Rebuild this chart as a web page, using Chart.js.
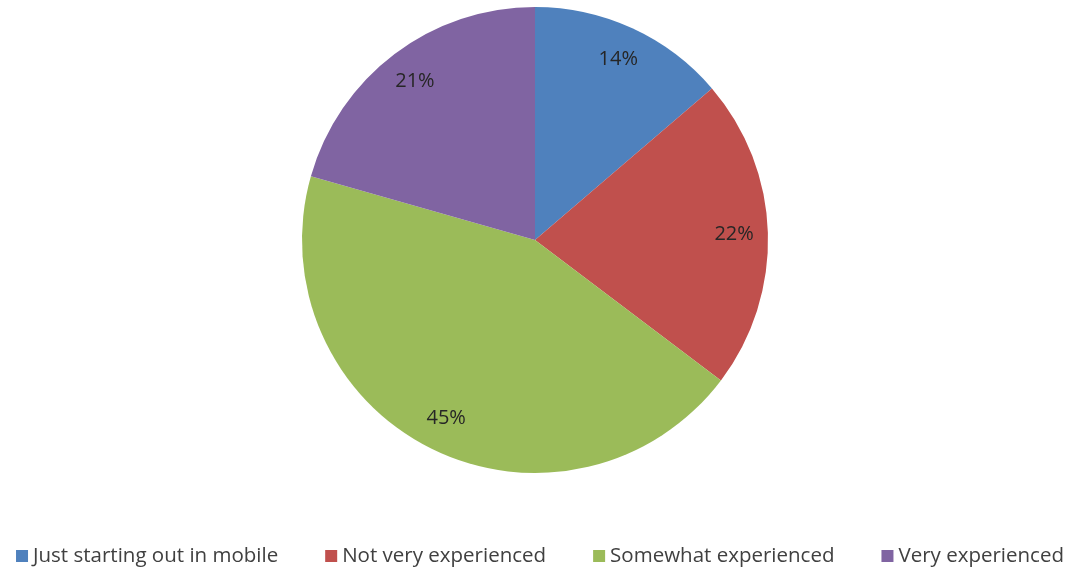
<!DOCTYPE html>
<html>
<head>
<meta charset="utf-8">
<script src="https://cdn.jsdelivr.net/npm/chart.js@4/dist/chart.umd.min.js"></script>
<style>
  html, body { margin: 0; padding: 0; background: #fff; }
  #wrap { width: 1066px; height: 568px; }
</style>
</head>
<body>
<div id="wrap"><canvas id="pieChart" width="1066" height="568"></canvas></div>
<script>
// experience levels and their share of respondents (%)
const categories = ['Just starting out in mobile', 'Not very experienced', 'Somewhat experienced', 'Very experienced'];
const shares = [14, 22, 45, 21];
const sliceColors = ['#4F81BD', '#C0504D', '#9BBB59', '#8064A2'];

// percent labels placed inside each slice
const sliceLabels = {
    id: 'sliceLabels',
    afterDatasetsDraw(chart) {
        const ctx = chart.ctx;
        const meta = chart.getDatasetMeta(0);
        ctx.save();
        ctx.font = '20px "Open Sans", sans-serif';
        ctx.fillStyle = '#262626';
        ctx.textAlign = 'center';
        ctx.textBaseline = 'middle';
        meta.data.forEach((arc, i) => {
            const p = arc.getProps(['x', 'y', 'startAngle', 'endAngle', 'outerRadius'], true);
            const mid = (p.startAngle + p.endAngle) / 2;
            const r = p.outerRadius * 0.855;
            ctx.fillText(shares[i] + '%', p.x + Math.cos(mid) * r, p.y + Math.sin(mid) * r);
        });
        ctx.restore();
    }
};

// single-row legend under the pie; the built-in one wraps with this much spacing
const rowLegend = {
    id: 'rowLegend',
    afterDraw(chart) {
        const ctx = chart.ctx;
        const labels = chart.data.labels;
        const colors = chart.data.datasets[0].backgroundColor;
        const box = 12, textGap = 5, itemGap = 47, y = 556;
        ctx.save();
        ctx.font = '20.5px "Open Sans", sans-serif';
        ctx.textBaseline = 'middle';
        const widths = labels.map(l => ctx.measureText(l).width);
        const total = widths.reduce((s, w) => s + w + box + textGap, 0) + itemGap * (labels.length - 1);
        let x = 540 - total / 2;
        labels.forEach((l, i) => {
            ctx.fillStyle = colors[i];
            ctx.fillRect(x, y - box / 2, box, box);
            ctx.fillStyle = '#404040';
            ctx.fillText(l, x + box + textGap, y);
            x += box + textGap + widths[i] + itemGap;
        });
        ctx.restore();
    }
};

new Chart(document.getElementById('pieChart'), {
    type: 'pie',
    data: {
        labels: categories,
        datasets: [{ data: shares, backgroundColor: sliceColors, borderWidth: 0 }]
    },
    options: {
        responsive: false,
        animation: false,
        layout: { padding: { top: 7, bottom: 95, left: 4 } },
        plugins: {
            tooltip: { enabled: false },
            legend: { display: false }
        }
    },
    plugins: [sliceLabels, rowLegend]
});
</script>
</body>
</html>
